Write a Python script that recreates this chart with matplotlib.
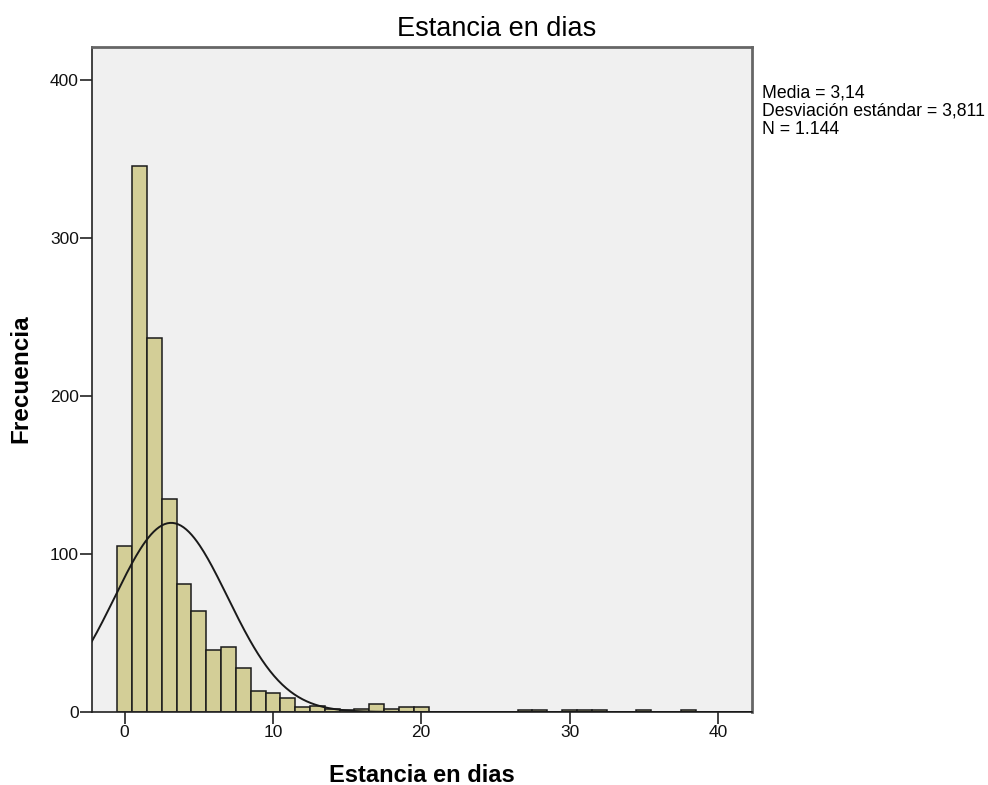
import numpy as np
import matplotlib
matplotlib.use("Agg")
import matplotlib.pyplot as plt

plt.rcParams['font.family'] = ['Liberation Sans', 'DejaVu Sans']

# frecuencia por dia (bins de ancho 1 centrados en el entero)
dias = list(range(0, 39))
frecuencia = [105, 346, 237, 135, 81, 64, 39, 41, 28, 13,
              12, 9, 3, 4, 2, 1, 2, 5, 2, 3,
              3, 0, 0, 0, 0, 0, 0, 1, 1, 0,
              1, 1, 1, 0, 0, 1, 0, 0, 1]

media = 3.14
desv = 3.811
n = 1144

fig = plt.figure(figsize=(9.88, 7.85), dpi=100)
ax = fig.add_axes([0.0931, 0.093, 0.668, 0.847])
ax.set_facecolor('#f0f0f0')

ax.bar(dias, frecuencia, width=1.0, align='center', color='#d3ce97',
       edgecolor='#1a1a1a', linewidth=1.1, zorder=2)

# curva normal con la media y desviacion
xs = np.linspace(-2.5, 43, 500)
ys = n * 1.0 / (desv * np.sqrt(2 * np.pi)) * np.exp(-0.5 * ((xs - media) / desv) ** 2)
ax.plot(xs, ys, color='#1a1a1a', linewidth=1.4, zorder=3)

ax.set_xlim(-2.2, 42.3)
ax.set_ylim(0, 421)
ax.set_xticks([0, 10, 20, 30, 40])
ax.set_yticks([0, 100, 200, 300, 400])
ax.tick_params(axis='both', direction='out', length=8.5, width=1.2, color='#222222',
               labelsize=12.5, pad=1, labelcolor='#111111')

for s in ['left', 'bottom']:
    ax.spines[s].set_color('#222222')
    ax.spines[s].set_linewidth(1.2)
for s in ['top', 'right']:
    ax.spines[s].set_color('#666666')
    ax.spines[s].set_linewidth(2.0)

fig.text(0.503, 0.954, 'Estancia en dias', ha='center', va='baseline', fontsize=19.5)
fig.text(0.427, 0.004, 'Estancia en dias', ha='center', va='baseline',
         fontsize=17, fontweight='bold')
fig.text(0.0325, 0.517, 'Frecuencia', ha='right', va='center', rotation=90,
         fontsize=17.5, fontweight='bold')

fig.text(0.771, 0.8925, 'Media = 3,14\nDesviación estándar = 3,811\nN = 1.144',
         ha='left', va='top', fontsize=12.7, linespacing=1.09)

fig.savefig('out.png', dpi=100, facecolor='white')
